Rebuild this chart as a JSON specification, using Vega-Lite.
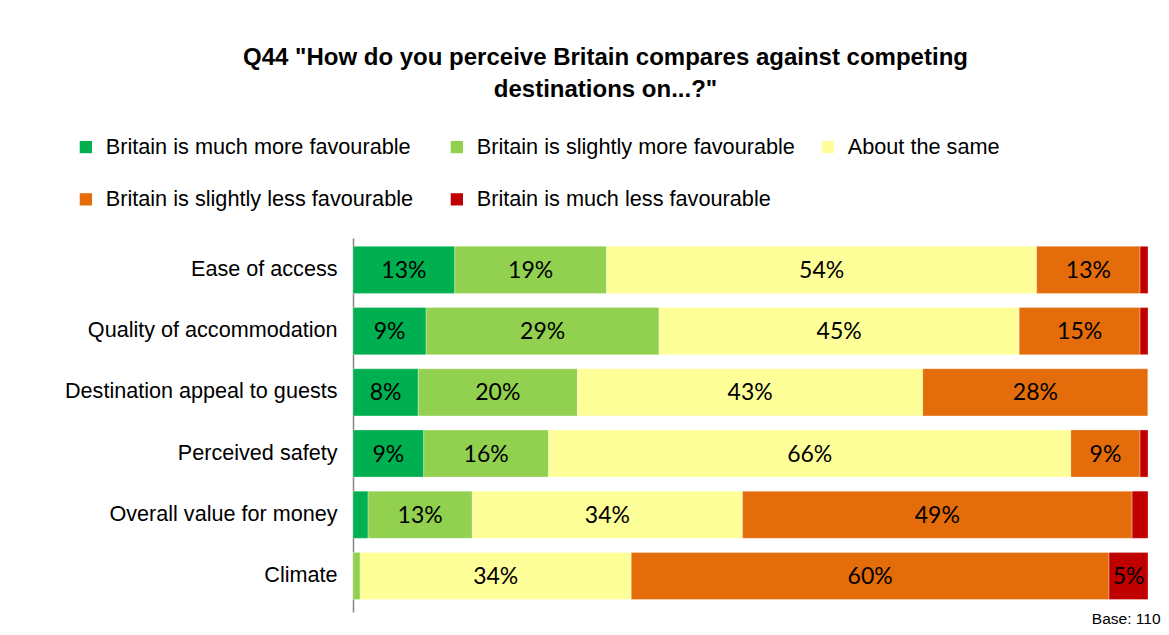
{
  "$schema": "https://vega.github.io/schema/vega-lite/v6.json",
  "width": 795,
  "height": 374,
  "autosize": {"type": "none"},
  "padding": {"left": 353, "top": 238, "right": 21, "bottom": 23},
  "background": "white",
  "config": {"view": {"stroke": null}},
  "title": {
    "text": ["Q44 \"How do you perceive Britain compares against competing", "destinations on...?\""],
    "font": "Liberation Sans",
    "fontSize": 24,
    "fontWeight": "bold",
    "color": "#000000",
    "anchor": "middle",
    "frame": "group",
    "dx": -145,
    "offset": 34,
    "lineHeight": 32.5
  },
  "data": {
    "values": [
      {"item": "Ease of access", "response": "Britain is much more favourable", "k": 1, "value": 0.128},
      {"item": "Ease of access", "response": "Britain is slightly more favourable", "k": 2, "value": 0.191},
      {"item": "Ease of access", "response": "About the same", "k": 3, "value": 0.541},
      {"item": "Ease of access", "response": "Britain is slightly less favourable", "k": 4, "value": 0.13},
      {"item": "Ease of access", "response": "Britain is much less favourable", "k": 5, "value": 0.01},
      {"item": "Quality of accommodation", "response": "Britain is much more favourable", "k": 1, "value": 0.092},
      {"item": "Quality of accommodation", "response": "Britain is slightly more favourable", "k": 2, "value": 0.293},
      {"item": "Quality of accommodation", "response": "About the same", "k": 3, "value": 0.453},
      {"item": "Quality of accommodation", "response": "Britain is slightly less favourable", "k": 4, "value": 0.152},
      {"item": "Quality of accommodation", "response": "Britain is much less favourable", "k": 5, "value": 0.01},
      {"item": "Destination appeal to guests", "response": "Britain is much more favourable", "k": 1, "value": 0.082},
      {"item": "Destination appeal to guests", "response": "Britain is slightly more favourable", "k": 2, "value": 0.2},
      {"item": "Destination appeal to guests", "response": "About the same", "k": 3, "value": 0.434},
      {"item": "Destination appeal to guests", "response": "Britain is slightly less favourable", "k": 4, "value": 0.283},
      {"item": "Destination appeal to guests", "response": "Britain is much less favourable", "k": 5, "value": 0},
      {"item": "Perceived safety", "response": "Britain is much more favourable", "k": 1, "value": 0.089},
      {"item": "Perceived safety", "response": "Britain is slightly more favourable", "k": 2, "value": 0.157},
      {"item": "Perceived safety", "response": "About the same", "k": 3, "value": 0.657},
      {"item": "Perceived safety", "response": "Britain is slightly less favourable", "k": 4, "value": 0.087},
      {"item": "Perceived safety", "response": "Britain is much less favourable", "k": 5, "value": 0.01},
      {"item": "Overall value for money", "response": "Britain is much more favourable", "k": 1, "value": 0.019},
      {"item": "Overall value for money", "response": "Britain is slightly more favourable", "k": 2, "value": 0.131},
      {"item": "Overall value for money", "response": "About the same", "k": 3, "value": 0.34},
      {"item": "Overall value for money", "response": "Britain is slightly less favourable", "k": 4, "value": 0.49},
      {"item": "Overall value for money", "response": "Britain is much less favourable", "k": 5, "value": 0.02},
      {"item": "Climate", "response": "Britain is much more favourable", "k": 1, "value": 0},
      {"item": "Climate", "response": "Britain is slightly more favourable", "k": 2, "value": 0.009},
      {"item": "Climate", "response": "About the same", "k": 3, "value": 0.341},
      {"item": "Climate", "response": "Britain is slightly less favourable", "k": 4, "value": 0.601},
      {"item": "Climate", "response": "Britain is much less favourable", "k": 5, "value": 0.049}
    ]
  },
  "transform": [
    {"stack": "value", "groupby": ["item"], "sort": [{"field": "k", "order": "ascending"}], "offset": "normalize", "as": ["v0", "v1"]},
    {"calculate": "(datum.v0 + datum.v1) / 2", "as": "mid"}
  ],
  "encoding": {
    "y": {
      "field": "item",
      "type": "nominal",
      "sort": ["Ease of access", "Quality of accommodation", "Destination appeal to guests", "Perceived safety", "Overall value for money", "Climate"],
      "scale": {"paddingInner": 0.23, "paddingOuter": 0.17, "align": 0.4},
      "axis": {
        "title": null,
        "domain": true,
        "domainColor": "#868686",
        "domainWidth": 1.5,
        "ticks": false,
        "grid": false,
        "labelPadding": 16,
        "labelFont": "Liberation Sans",
        "labelFontSize": 21.6,
        "labelColor": "#000000",
        "labelLimit": 400
      }
    }
  },
  "layer": [
    {
      "mark": {"type": "bar", "stroke": "white", "strokeWidth": 0.5, "strokeOpacity": 0.6},
      "encoding": {
        "x": {
          "field": "v0",
          "type": "quantitative",
          "scale": {"domain": [0, 1], "nice": false},
          "axis": {
            "domain": false,
            "ticks": false,
            "labels": false,
            "grid": false,
            "title": "Base: 110",
            "titleFont": "Liberation Sans",
            "titleFontSize": 15.5,
            "titleFontWeight": "normal",
            "titleColor": "#000000",
            "titleX": 807,
            "titleY": 11,
            "titleAlign": "right",
            "titleBaseline": "alphabetic"
          }
        },
        "x2": {"field": "v1"},
        "color": {
          "field": "response",
          "type": "nominal",
          "scale": {
            "domain": ["Britain is much more favourable", "Britain is slightly more favourable", "About the same", "Britain is slightly less favourable", "Britain is much less favourable"],
            "range": ["#00B050", "#92D050", "#FFFF99", "#E46C0A", "#C00000"]
          },
          "legend": {
            "title": null,
            "orient": "none",
            "legendX": -278,
            "legendY": -102,
            "direction": "horizontal",
            "columns": 3,
            "gridAlign": "all",
            "columnPadding": 22,
            "rowPadding": 29.5,
            "padding": 0,
            "symbolType": "square",
            "symbolSize": 150,
            "symbolStrokeWidth": 0,
            "symbolOpacity": 1,
            "labelOffset": 9,
            "labelFont": "Liberation Sans",
            "labelFontSize": 21.7,
            "labelColor": "#000000",
            "labelLimit": 400
          }
        }
      }
    },
    {
      "transform": [{"filter": "datum.value >= 0.03"}],
      "mark": {"type": "text", "font": "Lato", "fontSize": 23, "color": "#000000", "baseline": "middle", "dy": 1},
      "encoding": {
        "x": {"field": "mid", "type": "quantitative"},
        "text": {"field": "value", "type": "quantitative", "format": ".0%"}
      }
    }
  ]
}
